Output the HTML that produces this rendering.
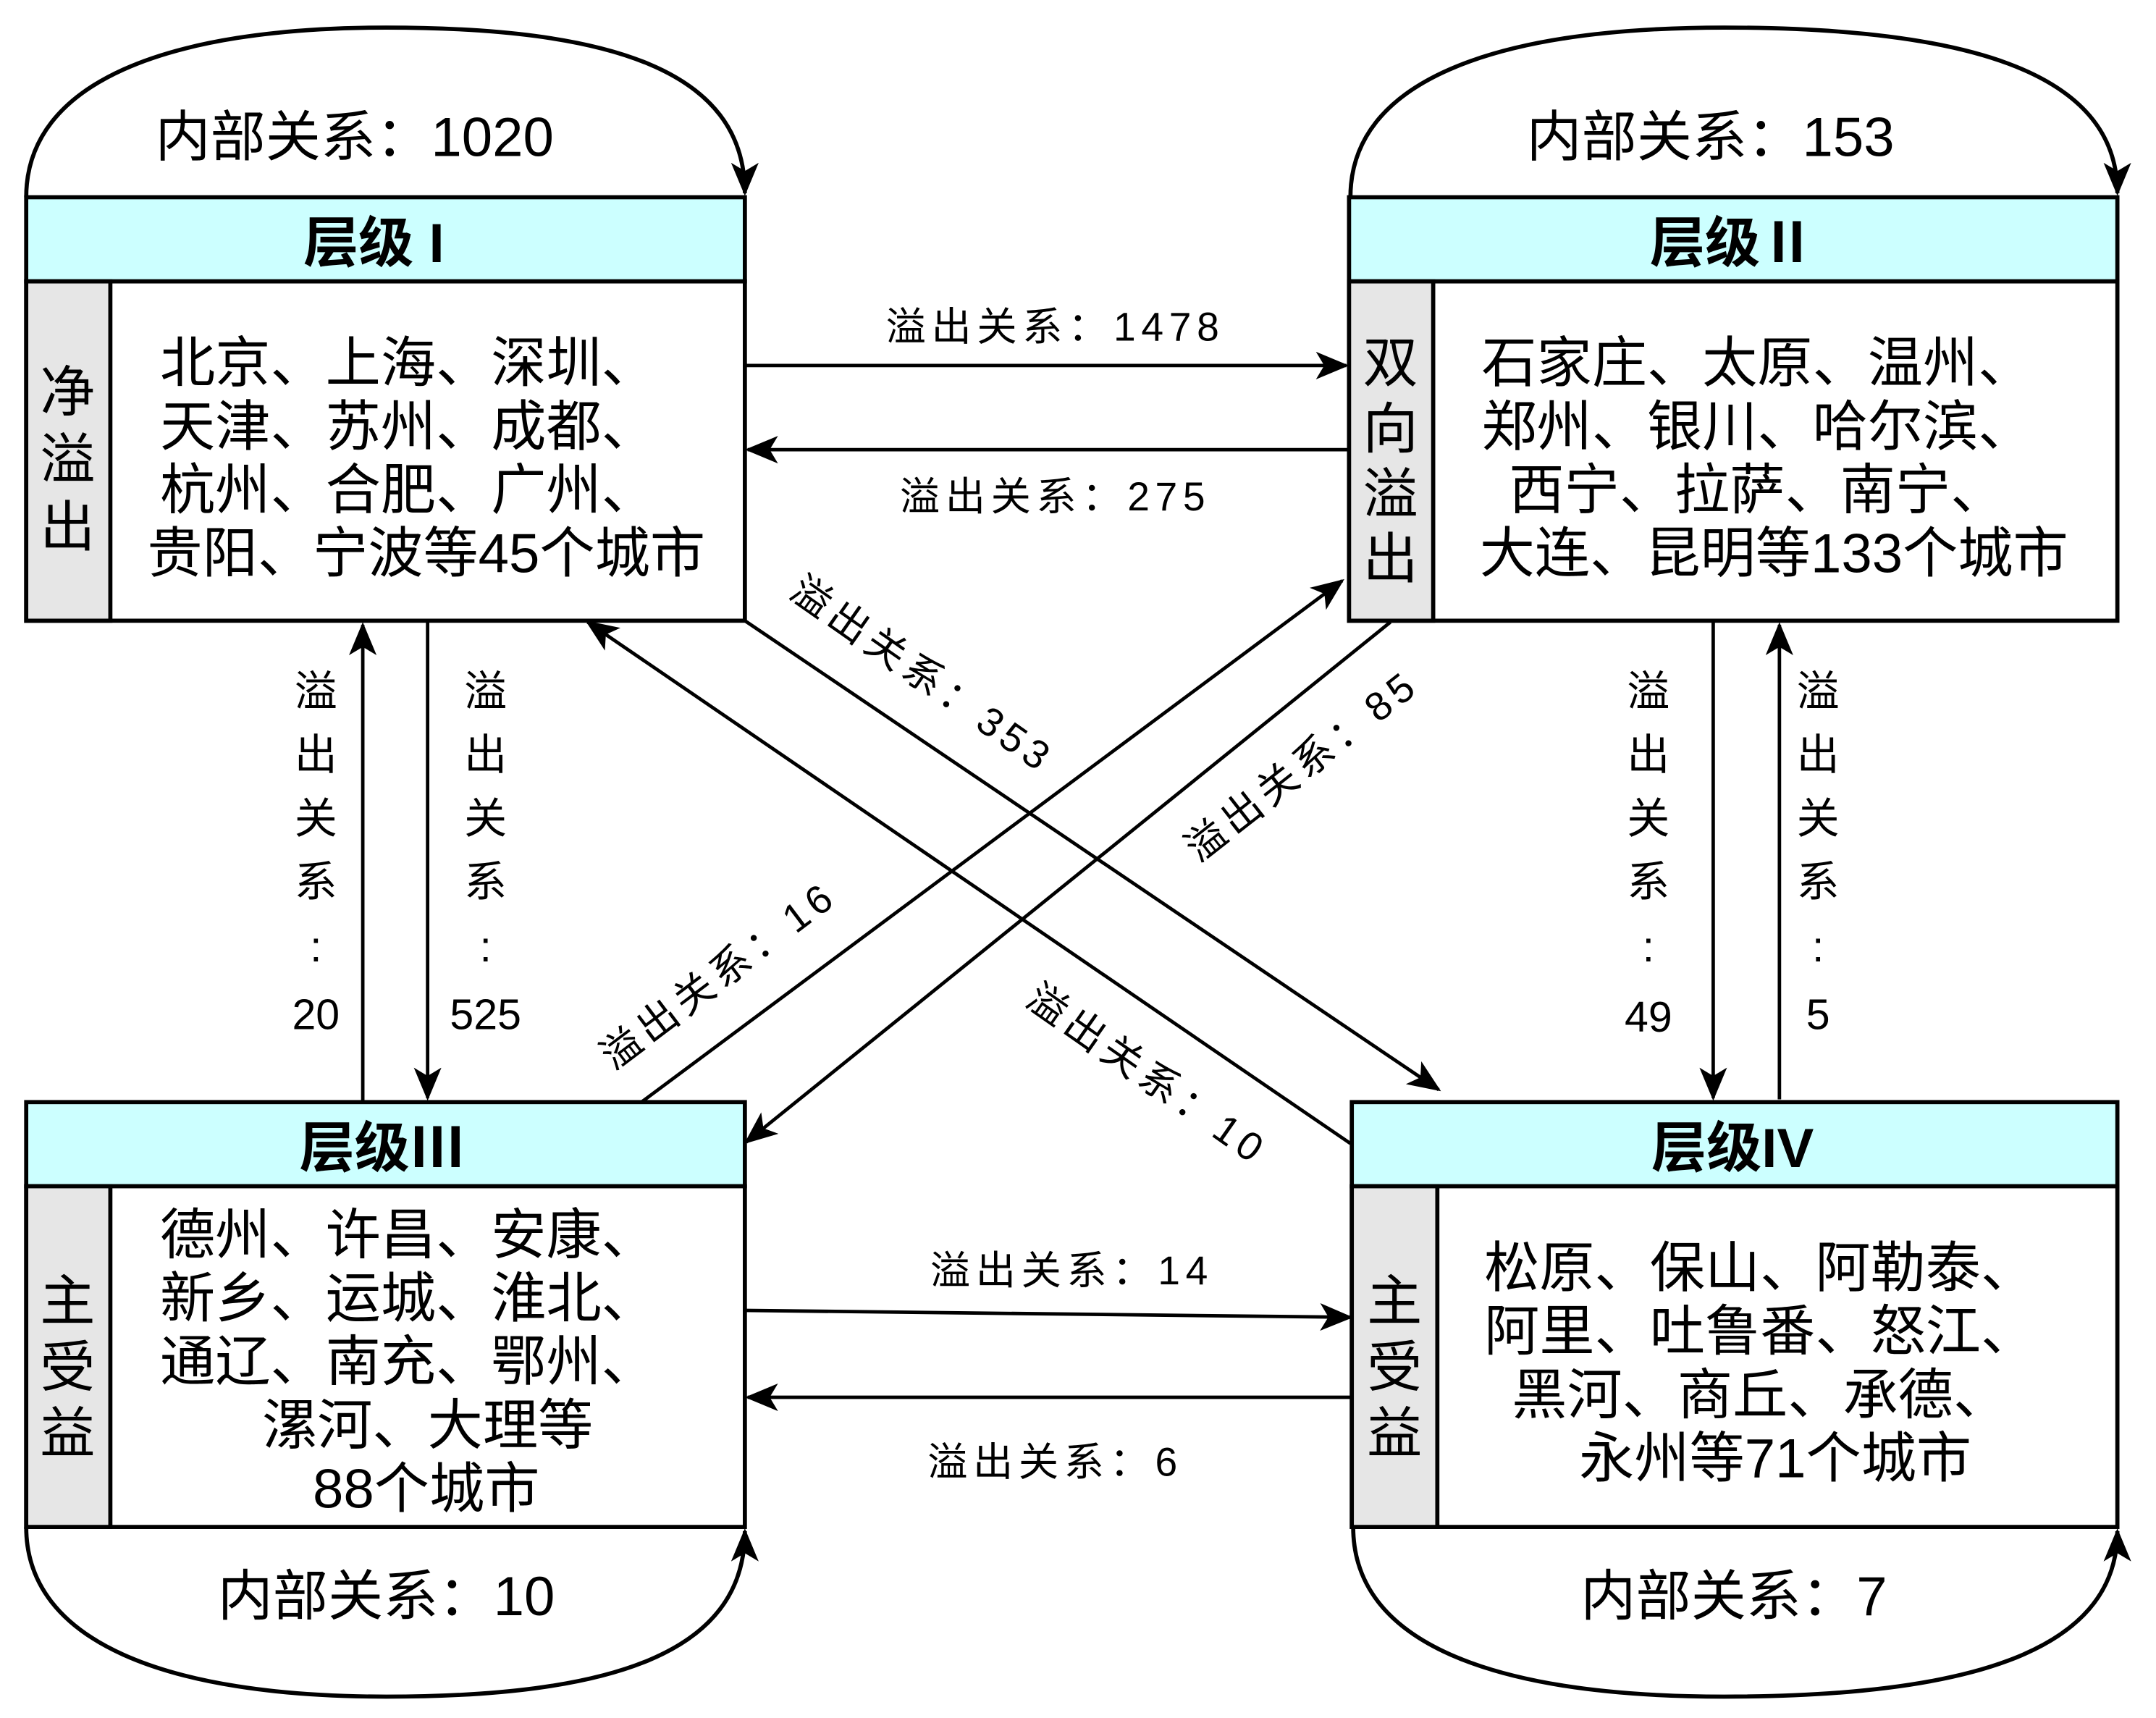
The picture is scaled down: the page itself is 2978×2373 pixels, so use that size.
<!DOCTYPE html>
<html><head><meta charset="utf-8"><style>
html,body{margin:0;padding:0;background:#fff;}
svg{display:block;}
text{font-family:"Liberation Sans","Noto Sans CJK SC",sans-serif;fill:#000;}
.h{font-size:40px;font-weight:bold;}
.c{font-size:40px;}
.s{font-size:40px;}
.l{font-size:29px;letter-spacing:4px;}
.v{font-size:31px;}
.in{font-size:40px;}
</style></head><body>
<svg width="2978" height="2373" viewBox="0 0 1563 1245.5" preserveAspectRatio="none" xmlns="http://www.w3.org/2000/svg">
<defs>
<marker id="a" viewBox="0 0 24 20" refX="22" refY="10" markerWidth="24" markerHeight="20" markerUnits="userSpaceOnUse" orient="auto">
<path d="M0,0 L24,10 L0,20 L6,10 z" fill="#000"/></marker>
</defs>
<rect width="1563" height="1246" fill="#fff"/>
<g stroke="#000" stroke-width="3" fill="none">
<path d="M19,143 C19,60 120,20 280,20 C440,20 540,50 540,140" marker-end="url(#a)"/>
<path d="M979,143 C979,60 1080,20 1250,20 C1420,20 1535,50 1535,140" marker-end="url(#a)"/>
<path d="M19,1107 C19,1190 120,1230 280,1230 C440,1230 540,1200 540,1110" marker-end="url(#a)"/>
<path d="M981,1107 C981,1190 1080,1230 1250,1230 C1420,1230 1535,1200 1535,1110" marker-end="url(#a)"/>
</g>
<g stroke="#000" stroke-width="3">
<rect x="19" y="143" width="521" height="61" fill="#ccffff"/>
<rect x="19" y="204" width="521" height="246" fill="#fff"/>
<rect x="19" y="204" width="61" height="246" fill="#e6e6e6"/>
<rect x="978" y="143" width="557" height="61" fill="#ccffff"/>
<rect x="978" y="204" width="557" height="246" fill="#fff"/>
<rect x="978" y="204" width="61" height="246" fill="#e6e6e6"/>
<rect x="19" y="799" width="521" height="61" fill="#ccffff"/>
<rect x="19" y="860" width="521" height="247" fill="#fff"/>
<rect x="19" y="860" width="61" height="247" fill="#e6e6e6"/>
<rect x="980" y="799" width="555" height="61" fill="#ccffff"/>
<rect x="980" y="860" width="555" height="247" fill="#fff"/>
<rect x="980" y="860" width="62" height="247" fill="#e6e6e6"/>
</g>
<g stroke="#000" stroke-width="2.5" fill="none" marker-end="url(#a)">
<line x1="540" y1="265" x2="976" y2="265"/>
<line x1="978" y1="326" x2="542" y2="326"/>
<line x1="310" y1="451" x2="310" y2="796"/>
<line x1="263" y1="799" x2="263" y2="453"/>
<line x1="1242" y1="451" x2="1242" y2="796"/>
<line x1="1290" y1="797" x2="1290" y2="453"/>
<line x1="540" y1="950" x2="979" y2="955"/>
<line x1="980" y1="1013" x2="542" y2="1013"/>
<line x1="540" y1="450" x2="1043" y2="790"/>
<line x1="979" y1="829" x2="426" y2="451"/>
<line x1="465" y1="799" x2="973" y2="421"/>
<line x1="1008" y1="451" x2="541" y2="828"/>
</g>
<text class="h" x="271" y="190" text-anchor="middle">层级 I</text>
<text class="h" x="1256" y="190" text-anchor="middle">层级Ⅱ</text>
<text class="h" x="277" y="846" text-anchor="middle">层级Ⅲ</text>
<text class="h" x="1256" y="846" text-anchor="middle">层级IV</text>
<text class="in" x="257" y="113" text-anchor="middle">内部关系：1020</text>
<text class="in" x="1240" y="113" text-anchor="middle">内部关系：153</text>
<text class="in" x="280" y="1171" text-anchor="middle">内部关系：10</text>
<text class="in" x="1257" y="1171" text-anchor="middle">内部关系：7</text>
<g class="s" text-anchor="middle">
<text x="49" y="298">净</text><text x="49" y="347">溢</text><text x="49" y="396">出</text>
<text x="1008" y="277">双</text><text x="1008" y="325">向</text><text x="1008" y="372">溢</text><text x="1008" y="419">出</text>
<text x="49" y="957">主</text><text x="49" y="1005">受</text><text x="49" y="1053">益</text>
<text x="1011" y="957">主</text><text x="1011" y="1005">受</text><text x="1011" y="1053">益</text>
</g>
<g class="c" text-anchor="middle">
<text x="296" y="277">北京、上海、深圳、</text>
<text x="296" y="323">天津、苏州、成都、</text>
<text x="296" y="369">杭州、合肥、广州、</text>
<text x="309" y="415">贵阳、宁波等45个城市</text>
<text x="1274" y="277">石家庄、太原、温州、</text>
<text x="1274" y="323">郑州、银川、哈尔滨、</text>
<text x="1274" y="369">西宁、拉萨、南宁、</text>
<text x="1286" y="415">大连、昆明等133个城市</text>
<text x="296" y="909">德州、许昌、安康、</text>
<text x="296" y="955">新乡、运城、淮北、</text>
<text x="296" y="1001">通辽、南充、鄂州、</text>
<text x="310" y="1047">漯河、大理等</text>
<text x="309" y="1093">88个城市</text>
<text x="1276" y="933">松原、保山、阿勒泰、</text>
<text x="1276" y="979">阿里、吐鲁番、怒江、</text>
<text x="1276" y="1025">黑河、商丘、承德、</text>
<text x="1287" y="1071">永州等71个城市</text>
</g>
<g class="l" text-anchor="middle">
<text x="765" y="247">溢出关系：1478</text>
<text x="765" y="370">溢出关系：275</text>
<text x="777" y="931">溢出关系：14</text>
<text x="765" y="1070">溢出关系：6</text>
<text transform="translate(663,497) rotate(35)">溢出关系：353</text>
<text transform="translate(826,787) rotate(35)">溢出关系：10</text>
<text transform="translate(527,715) rotate(-37)">溢出关系：16</text>
<text transform="translate(950,563) rotate(-38)">溢出关系：85</text>
</g>
<g class="v" text-anchor="middle">
<text x="229" y="512">溢</text><text x="229" y="558">出</text><text x="229" y="604">关</text><text x="229" y="650">系</text><text x="229" y="697">:</text><text x="229" y="746">20</text>
<text x="352" y="512">溢</text><text x="352" y="558">出</text><text x="352" y="604">关</text><text x="352" y="650">系</text><text x="352" y="697">:</text><text x="352" y="746">525</text>
<text x="1195" y="512">溢</text><text x="1195" y="558">出</text><text x="1195" y="604">关</text><text x="1195" y="650">系</text><text x="1195" y="697">:</text><text x="1195" y="748">49</text>
<text x="1318" y="512">溢</text><text x="1318" y="558">出</text><text x="1318" y="604">关</text><text x="1318" y="650">系</text><text x="1318" y="697">:</text><text x="1318" y="746">5</text>
</g>
</svg>
</body></html>
